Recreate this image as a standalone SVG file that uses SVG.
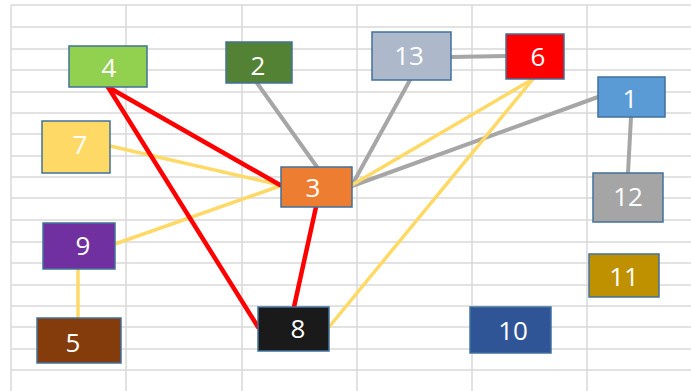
<svg xmlns="http://www.w3.org/2000/svg" width="691" height="391" viewBox="0 0 691 391">
<style>
.grid line{stroke:#d9d9d9;stroke-width:1.5}
.box{stroke:#41719c;stroke-width:1.5}
.lbl{font-family:"Open Sans","Noto Sans",sans-serif;font-size:26px;fill:#ffffff;text-anchor:middle}
.red{stroke:#ff0000;stroke-width:4.5;stroke-linecap:round}
.gray{stroke:#a6a6a6;stroke-width:4;stroke-linecap:round}
.yel{stroke:#ffd966;stroke-width:3.5;stroke-linecap:round}
</style>
<rect width="691" height="391" fill="#ffffff"/>
<g class="grid">
<line x1="11" y1="5" x2="691" y2="5"/>
<line x1="11" y1="27" x2="691" y2="27"/>
<line x1="11" y1="49" x2="691" y2="49"/>
<line x1="11" y1="70" x2="691" y2="70"/>
<line x1="11" y1="92" x2="691" y2="92"/>
<line x1="11" y1="113" x2="691" y2="113"/>
<line x1="11" y1="134" x2="691" y2="134"/>
<line x1="11" y1="156" x2="691" y2="156"/>
<line x1="11" y1="177" x2="691" y2="177"/>
<line x1="11" y1="198" x2="691" y2="198"/>
<line x1="11" y1="220" x2="691" y2="220"/>
<line x1="11" y1="242" x2="691" y2="242"/>
<line x1="11" y1="263" x2="691" y2="263"/>
<line x1="11" y1="285" x2="691" y2="285"/>
<line x1="11" y1="306" x2="691" y2="306"/>
<line x1="11" y1="327" x2="691" y2="327"/>
<line x1="11" y1="349" x2="691" y2="349"/>
<line x1="11" y1="370" x2="691" y2="370"/>
<line x1="11" y1="5" x2="11" y2="391"/>
<line x1="126" y1="5" x2="126" y2="391"/>
<line x1="242" y1="5" x2="242" y2="391"/>
<line x1="357" y1="5" x2="357" y2="391"/>
<line x1="472" y1="5" x2="472" y2="391"/>
<line x1="587" y1="5" x2="587" y2="391"/>
</g>
<g id="connectors">
<line class="gray" x1="257" y1="83" x2="317" y2="167"/>
<line class="gray" x1="410" y1="80" x2="352" y2="185"/>
<line class="gray" x1="451" y1="57" x2="506" y2="56"/>
<line class="gray" x1="598" y1="97" x2="352" y2="186"/>
<line class="gray" x1="631" y1="117" x2="628" y2="173"/>
<line class="yel" x1="110" y1="146" x2="280" y2="185"/>
<line class="yel" x1="115" y1="244" x2="280" y2="186"/>
<line class="yel" x1="78" y1="269" x2="78" y2="318"/>
<line class="yel" x1="533" y1="79" x2="352" y2="185"/>
<line class="yel" x1="533" y1="79" x2="329" y2="327"/>
<line class="red" x1="108" y1="87" x2="280" y2="185"/>
<line class="red" x1="108" y1="87" x2="258" y2="327"/>
<line class="red" x1="316" y1="207" x2="294" y2="307"/>
</g>
<g id="n4"><rect class="box" x="69" y="46" width="78" height="41" fill="#92d050"/><text class="lbl" x="109" y="77">4</text></g>
<g id="n2"><rect class="box" x="226" y="42" width="66" height="41" fill="#548235"/><text class="lbl" x="258" y="75">2</text></g>
<g id="n7"><rect class="box" x="42" y="121" width="68" height="52" fill="#ffd966"/><text class="lbl" x="80" y="154">7</text></g>
<g id="n3"><rect class="box" x="281" y="167" width="71" height="40" fill="#ed7d31"/><text class="lbl" x="313" y="197">3</text></g>
<g id="n13"><rect class="box" x="372" y="32" width="79" height="48" fill="#adb9ca"/><text class="lbl" x="409" y="65">13</text></g>
<g id="n6"><rect class="box" x="506" y="34" width="58" height="45" fill="#ff0000"/><text class="lbl" x="538" y="66">6</text></g>
<g id="n1"><rect class="box" x="598" y="77" width="67" height="40" fill="#5b9bd5"/><text class="lbl" x="630" y="108">1</text></g>
<g id="n12"><rect class="box" x="593" y="173" width="70" height="49" fill="#a5a5a5"/><text class="lbl" x="628" y="206">12</text></g>
<g id="n9"><rect class="box" x="43" y="223" width="72" height="46" fill="#7030a0"/><text class="lbl" x="83" y="255">9</text></g>
<g id="n5"><rect class="box" x="37" y="318" width="84" height="45" fill="#843c0c"/><text class="lbl" x="73" y="352">5</text></g>
<g id="n8"><rect class="box" x="258" y="307" width="71" height="44" fill="#1a1a1a"/><text class="lbl" x="298" y="338">8</text></g>
<g id="n10"><rect class="box" x="470" y="307" width="81" height="46" fill="#2f5597"/><text class="lbl" x="513" y="340">10</text></g>
<g id="n11"><rect class="box" x="589" y="254" width="70" height="43" fill="#bf9000"/><text class="lbl" x="624" y="286">11</text></g>
</svg>
